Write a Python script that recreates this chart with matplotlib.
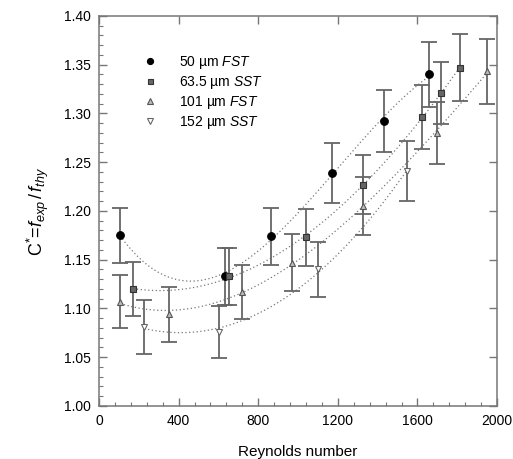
import numpy as np
from matplotlib import pyplot as plt
from matplotlib.ticker import MultipleLocator

plt.rcParams['font.family'] = ['Liberation Sans', 'DejaVu Sans']
plt.rcParams['mathtext.fontset'] = 'custom'
plt.rcParams['mathtext.rm'] = 'Liberation Sans'
plt.rcParams['mathtext.it'] = 'Liberation Sans:italic'

# 50 um FST
re_50 = [106, 635, 863, 1169, 1434, 1658]
c_50 = [1.175, 1.133, 1.174, 1.239, 1.292, 1.340]
err_50 = [0.028, 0.029, 0.029, 0.031, 0.032, 0.033]

# 63.5 um SST
re_63 = [172, 655, 1040, 1327, 1621, 1717, 1816]
c_63 = [1.120, 1.133, 1.173, 1.227, 1.296, 1.321, 1.347]
err_63 = [0.028, 0.029, 0.029, 0.030, 0.033, 0.032, 0.034]

# 101 um FST
re_101 = [107, 352, 717, 968, 1328, 1698, 1950]
c_101 = [1.107, 1.094, 1.117, 1.147, 1.205, 1.280, 1.343]
err_101 = [0.027, 0.028, 0.028, 0.029, 0.030, 0.032, 0.033]

# 152 um SST
re_152 = [228, 603, 1099, 1549]
c_152 = [1.081, 1.076, 1.140, 1.241]
err_152 = [0.028, 0.027, 0.028, 0.031]

labels = ['50 µm $\\mathit{FST}$', '63.5 µm $\\mathit{SST}$',
          '101 µm $\\mathit{FST}$', '152 µm $\\mathit{SST}$']

series = [
    (re_50, c_50, err_50, 3, dict(marker='o', ms=5.5, mfc='black', mec='black')),
    (re_63, c_63, err_63, 3, dict(marker='s', ms=4.5, mfc='#666666', mec='#333333')),
    (re_101, c_101, err_101, 3, dict(marker='^', ms=5, mfc='#bbbbbb', mec='#555555')),
    (re_152, c_152, err_152, 2, dict(marker='v', ms=5, mfc='white', mec='#666666')),
]

fig = plt.figure(figsize=(5.13, 4.59), dpi=100)
ax = fig.add_axes([0.193, 0.1155, 0.776, 0.85])

handles = []
for (x, y, e, deg, mk), lab in zip(series, labels):
    # dotted fit curve through each set
    p = np.polyfit(x, y, deg)
    xs = np.linspace(min(x), max(x), 200)
    ax.plot(xs, np.polyval(p, xs), ls=(0, (1, 2)), lw=0.9, color='#777777', zorder=1)
    ax.errorbar(x, y, yerr=e, fmt='none', ecolor='#666666', elinewidth=1.3,
                capsize=5.8, capthick=1.3, zorder=2)
    h, = ax.plot(x, y, ls='none', mew=0.8, zorder=3, **mk)
    handles.append(h)

leg = ax.legend(handles, labels, loc='upper left', bbox_to_anchor=(0.078, 0.935),
                frameon=False, fontsize=10, handletextpad=1.6, labelspacing=0.22,
                markerscale=0.8, handlelength=1.0)

ax.set_xlim(0, 2000)
ax.set_ylim(1.0, 1.4)
ax.xaxis.set_major_locator(MultipleLocator(400))
ax.xaxis.set_minor_locator(MultipleLocator(80))
ax.yaxis.set_major_locator(MultipleLocator(0.05))
ax.yaxis.set_minor_locator(MultipleLocator(0.01))
ax.yaxis.set_major_formatter(plt.FormatStrFormatter('%.2f'))
ax.tick_params(which='major', direction='in', length=6, width=1, color='#777777',
               labelsize=10, top=True, right=True)
ax.tick_params(which='minor', direction='in', length=3, width=0.8, color='#777777')
ax.tick_params(axis='both', pad=6)
for s in ax.spines.values():
    s.set_color('#777777')
    s.set_linewidth(1.1)

ax.set_xlabel('Reynolds number', fontsize=11, labelpad=12)
ax.set_ylabel('C$^{*}$=$f_{exp}\\,/\\,f_{thy}$', fontsize=13, labelpad=9)

fig.savefig('out.png', dpi=100)
